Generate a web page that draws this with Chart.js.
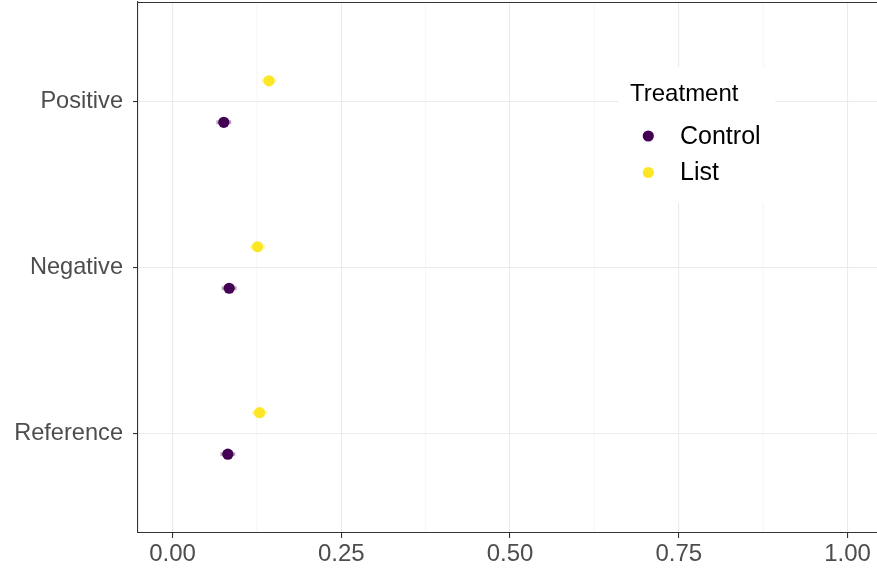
<!DOCTYPE html>
<html>
<head>
<meta charset="utf-8">
<script src="https://cdn.jsdelivr.net/npm/chart.js@4.4.1/dist/chart.umd.min.js"></script>
<style>
  html, body { margin: 0; padding: 0; background: #ffffff; }
  #wrap { width: 877px; height: 572px; position: relative; }
</style>
</head>
<body>
<div id="wrap"><canvas id="chart"></canvas></div>
<script>
// Categories listed top to bottom
const categories = ['Positive', 'Negative', 'Reference'];

// Estimated proportions per treatment group
const controlMean = [0.076, 0.084, 0.082];
const listMean    = [0.143, 0.126, 0.129];

// Interval bounds around each estimate
const controlLow  = [0.065, 0.073, 0.071];
const controlHigh = [0.087, 0.095, 0.093];
const listLow     = [0.132, 0.115, 0.118];
const listHigh    = [0.154, 0.137, 0.140];

const xTicks = [0, 0.25, 0.5, 0.75, 1.0];
const xMinorTicks = [0.125, 0.375, 0.625, 0.875];

const FONT = '"Liberation Sans", Arial, Helvetica, sans-serif';
const PURPLE = '#440154';
const YELLOW = '#FDE725';
const DODGE = 0.125;

function points(means, lows, highs, offset) {
  return categories.map((c, i) => ({ x: means[i], y: i + 1 + offset, lo: lows[i], hi: highs[i] }));
}

function noPadding(s) {
  s.paddingTop = 0;
  s.paddingBottom = 0;
  s.paddingLeft = 0;
  s.paddingRight = 0;
}

// White background, minor grid lines
const backdrop = {
  id: 'backdrop',
  beforeDraw(chart) {
    const { ctx, chartArea: a, scales } = chart;
    ctx.save();
    ctx.fillStyle = '#ffffff';
    ctx.fillRect(0, 0, chart.width, chart.height);
    ctx.strokeStyle = '#F0F0F0';
    ctx.lineWidth = 0.6;
    xMinorTicks.forEach(v => {
      const px = scales.x.getPixelForValue(v);
      ctx.beginPath();
      ctx.moveTo(px, a.top);
      ctx.lineTo(px, a.bottom);
      ctx.stroke();
    });
    ctx.restore();
  }
};

// Horizontal interval bars under each point
const intervals = {
  id: 'intervals',
  beforeDatasetsDraw(chart) {
    const { ctx, scales } = chart;
    ctx.save();
    ctx.lineCap = 'butt';
    chart.data.datasets.forEach(ds => {
      ctx.strokeStyle = ds.barColor;
      ctx.lineWidth = 4;
      ds.data.forEach(p => {
        const y = scales.y.getPixelForValue(p.y);
        ctx.beginPath();
        ctx.moveTo(scales.x.getPixelForValue(p.lo), y);
        ctx.lineTo(scales.x.getPixelForValue(p.hi), y);
        ctx.stroke();
      });
    });
    ctx.restore();
  }
};

// Top panel edge and the legend box inside the panel
const panelAndLegend = {
  id: 'panelAndLegend',
  afterDraw(chart) {
    const { ctx, chartArea: a } = chart;
    ctx.save();
    ctx.strokeStyle = '#333333';
    ctx.lineWidth = 1.1;
    ctx.beginPath();
    ctx.moveTo(a.left - 0.5, a.top + 0.5);
    ctx.lineTo(a.right, a.top + 0.5);
    ctx.stroke();

    // legend
    const lx = 618, ly = 67, lw = 157, lh = 136;
    ctx.fillStyle = '#ffffff';
    ctx.fillRect(lx, ly, lw, lh);
    ctx.fillStyle = '#000000';
    ctx.textBaseline = 'alphabetic';
    ctx.textAlign = 'left';
    ctx.font = '24px ' + FONT;
    ctx.fillText('Treatment', 630, 101);
    ctx.font = '25px ' + FONT;
    const rows = [136, 172.5];
    chart.data.datasets.forEach((ds, i) => {
      ctx.fillStyle = ds.backgroundColor;
      ctx.beginPath();
      ctx.arc(648.3, rows[i], 5.6, 0, Math.PI * 2);
      ctx.fill();
      ctx.fillStyle = '#000000';
      ctx.textBaseline = 'middle';
      ctx.fillText(ds.label, 680, rows[i] + 1);
    });
    ctx.restore();
  }
};

new Chart(document.getElementById('chart'), {
  type: 'scatter',
  data: {
    datasets: [
      {
        label: 'Control',
        data: points(controlMean, controlLow, controlHigh, DODGE),
        backgroundColor: PURPLE,
        borderWidth: 0,
        pointRadius: 5.6,
        pointHoverRadius: 5.6,
        barColor: 'rgba(68,1,84,0.35)'
      },
      {
        label: 'List',
        data: points(listMean, listLow, listHigh, -DODGE),
        backgroundColor: YELLOW,
        borderWidth: 0,
        pointRadius: 5.6,
        pointHoverRadius: 5.6,
        barColor: 'rgba(253,231,37,0.35)'
      }
    ]
  },
  options: {
    responsive: true,
    maintainAspectRatio: false,
    animation: false,
    layout: { autoPadding: false, padding: { top: 2, left: 0, right: 0, bottom: 0 } },
    plugins: {
      legend: { display: false },
      tooltip: { enabled: false }
    },
    scales: {
      x: {
        type: 'linear',
        min: -0.0511,
        max: 1.0437,
        afterBuildTicks: s => { s.ticks = xTicks.map(v => ({ value: v })); },
        afterFit: s => { s.height = 39; noPadding(s); },
        grid: {
          color: '#EBEBEB',
          lineWidth: 1.1,
          drawTicks: true,
          tickLength: 5,
          tickColor: '#333333',
          tickWidth: 1.1
        },
        border: { color: '#333333', width: 1.1 },
        ticks: {
          color: '#4D4D4D',
          font: { family: FONT, size: 24 },
          padding: 2,
          maxRotation: 0,
          callback: v => Number(v).toFixed(2)
        }
      },
      y: {
        type: 'linear',
        reverse: true,
        min: 0.4,
        max: 3.6,
        afterBuildTicks: s => { s.ticks = categories.map((c, i) => ({ value: i + 1 })); },
        afterFit: s => { s.width = 138; noPadding(s); },
        grid: {
          color: '#EBEBEB',
          lineWidth: 1.1,
          drawTicks: true,
          tickLength: 5,
          tickColor: '#333333',
          tickWidth: 1.1
        },
        border: { color: '#333333', width: 1.1 },
        ticks: {
          color: '#4D4D4D',
          font: { family: FONT, size: 23.6 },
          padding: 10,
          callback: v => categories[Math.round(v) - 1]
        }
      }
    }
  },
  plugins: [backdrop, intervals, panelAndLegend]
});
</script>
</body>
</html>
